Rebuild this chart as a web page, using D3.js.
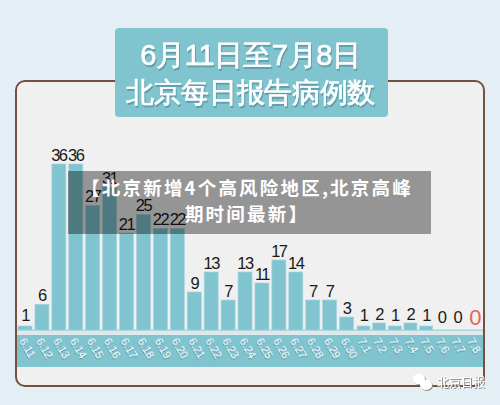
<!DOCTYPE html>
<html>
<head>
<meta charset="utf-8">
<script src="https://cdn.jsdelivr.net/npm/d3@7"></script>
<style>
  html, body { margin: 0; padding: 0; background: #e3eff4; }
  svg { display: block; }
  text { font-family: "Liberation Sans", Arial, sans-serif; }
  .cjk { font-family: "Noto Sans CJK SC", sans-serif; }
</style>
</head>
<body>
<svg id="chart" width="500" height="405"></svg>
<script>
var days = ['6.11','6.12','6.13','6.14','6.15','6.16','6.17','6.18','6.19','6.20',
            '6.21','6.22','6.23','6.24','6.25','6.26','6.27','6.28','6.29','6.30',
            '7.1','7.2','7.3','7.4','7.5','7.6','7.7','7.8'];
var cases = [1,6,36,36,27,31,21,25,22,22,9,13,7,13,11,17,14,7,7,3,1,2,1,2,1,0,0,0];
var titleLines = ['6月11日至7月8日', '北京每日报告病例数'];
var bannerLines = ['【北京新增4个高风险地区,北京高峰', '期时间最新】'];

var svg = d3.select('#chart');
var barColor = '#80c4d0';

var defs = svg.append('defs');
function shadow(id, dx, dy, blur, color) {
  defs.append('filter').attr('id', id)
      .attr('x', '-20%').attr('y', '-20%').attr('width', '140%').attr('height', '140%')
    .append('feDropShadow')
      .attr('dx', dx).attr('dy', dy).attr('stdDeviation', blur)
      .attr('flood-color', color).attr('flood-opacity', 1);
}
shadow('titleShadow', 1, 2, 0.7, '#5f9fac');
shadow('tickShadow', 0.8, 0.8, 0.5, '#4f8f9b');
shadow('markShadow', 1, 1, 0.5, '#8c8c8c');

// the July days are drawn closer together than the June ones
var x = d3.scaleLinear().domain([0, 20, 27]).range([25, 363.5, 473]);
// the poster's bars are hand drawn, so heights are not quite proportional
var y = d3.scaleLinear()
    .domain([0, 1, 2, 3, 7, 9, 11, 13, 14, 17, 21, 36])
    .range([330, 326, 323, 317, 300, 292, 283, 272, 272, 260, 233, 164]);

function labelGap(d, i) {
  if (i === cases.length - 1) return 5;
  if (d === 0) return 7;
  if (d === 1) return 5;
  return 3.5;
}

// panel
svg.append('rect')
    .attr('x', 16).attr('y', 81).attr('width', 468).attr('height', 305).attr('rx', 9)
    .attr('fill', '#f0f0f0').attr('stroke', '#75503f').attr('stroke-width', 2);

// date band and base line
svg.append('rect').attr('x', 17).attr('y', 331).attr('width', 466).attr('height', 4).attr('fill', '#dfe9ec');
svg.append('rect').attr('x', 17).attr('y', 329.5).attr('width', 466).attr('height', 1.5).attr('fill', '#a9d6de');
svg.append('rect').attr('x', 17).attr('y', 335).attr('width', 466).attr('height', 32).attr('fill', barColor);

// bars
svg.append('g').selectAll('rect')
    .data(cases.filter(function(d) { return d > 0; }))
  .join('rect')
    .attr('x', function(d, i) { return x(i) - (i < 20 ? 7 : 6.5); })
    .attr('width', function(d, i) { return i < 20 ? 14 : 13; })
    .attr('y', function(d) { return y(d); })
    .attr('height', function(d) { return y(0) - y(d); })
    .attr('fill', barColor)
    .attr('stroke', '#a9d6de')
    .attr('stroke-width', 0.7);

// value labels
svg.append('g').selectAll('text')
    .data(cases)
  .join('text')
    .attr('x', function(d, i) { return x(i) + (i === cases.length - 1 ? 1.5 : 0); })
    .attr('y', function(d, i) { return y(d) - labelGap(d, i); })
    .attr('text-anchor', 'middle')
    .attr('font-size', function(d, i) { return i === cases.length - 1 ? 22 : 16.5; })
    .attr('letter-spacing', -1.5)
    .attr('fill', function(d, i) { return i === cases.length - 1 ? '#e0655c' : '#1a1a1a'; })
    .text(function(d) { return d; });

// date labels
svg.append('g').selectAll('text')
    .data(days)
  .join('text')
    .attr('transform', function(d, i) { return 'translate(' + (x(i) - 6) + ',341) rotate(60)'; })
    .attr('font-size', 11)
    .attr('fill', '#fff')
    .attr('filter', 'url(#tickShadow)')
    .text(function(d) { return d; });

// title box
svg.append('rect')
    .attr('x', 115).attr('y', 28).attr('width', 273).attr('height', 89).attr('rx', 4)
    .attr('fill', barColor);
svg.append('g').selectAll('text')
    .data(titleLines)
  .join('text')
    .attr('x', 250.5)
    .attr('y', function(d, i) { return 65 + i * 37; })
    .attr('text-anchor', 'middle')
    .attr('font-size', function(d, i) { return i === 0 ? 29 : 28.2; })
    .attr('letter-spacing', -0.3)
    .attr('fill', '#fff')
    .attr('stroke', '#fff')
    .attr('stroke-width', 0.6)
    .attr('filter', 'url(#titleShadow)')
    .text(function(d) { return d; });

// watermark
var mark = svg.append('g').attr('filter', 'url(#markShadow)');
mark.append('ellipse').attr('cx', 419).attr('cy', 379).attr('rx', 6).attr('ry', 5.2).attr('fill', '#fff');
mark.append('ellipse').attr('cx', 426).attr('cy', 385).attr('rx', 6).attr('ry', 5).attr('fill', '#fff');
mark.append('text')
    .attr('x', 437).attr('y', 387)
    .attr('font-size', 12)
    .attr('fill', '#fff')
    .attr('class', 'cjk')
    .text('北京日报');

// grey banner across the chart
svg.append('rect')
    .attr('x', 68).attr('y', 171).attr('width', 363).attr('height', 63)
    .attr('fill', '#000').attr('fill-opacity', 0.38);
svg.append('g').selectAll('text')
    .data(bannerLines)
  .join('text')
    .attr('class', 'cjk')
    .attr('x', 247)
    .attr('y', function(d, i) { return 195 + i * 26; })
    .attr('text-anchor', 'middle')
    .attr('font-size', 18.5)
    .attr('font-weight', 700)
    .attr('letter-spacing', 2.2)
    .attr('fill', '#fff')
    .text(function(d) { return d; });
</script>
</body>
</html>
